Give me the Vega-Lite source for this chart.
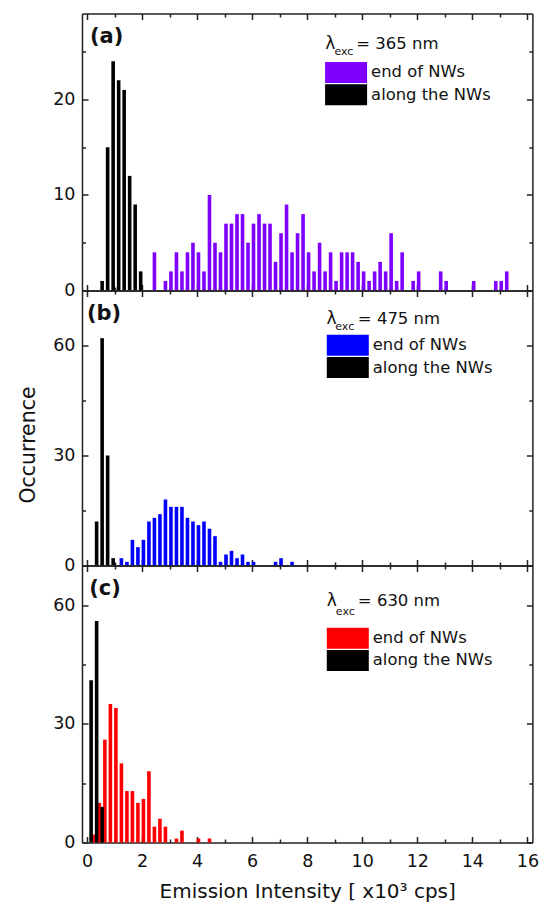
{
  "$schema": "https://vega.github.io/schema/vega-lite/v6.json",
  "padding": {"left": 18, "top": 12.5, "right": 10, "bottom": 2},
  "spacing": 0,
  "bounds": "flush",
  "background": "white",
  "config": {
    "font": "DejaVu Sans",
    "view": {"stroke": null},
    "axis": {
      "grid": false,
      "domainColor": "#222",
      "domainWidth": 1.5,
      "tickColor": "#222",
      "tickWidth": 1.5,
      "labelFont": "DejaVu Sans",
      "labelFontSize": 17.5,
      "labelColor": "#111",
      "labelOverlap": false,
      "labelFlush": false,
      "titleFont": "DejaVu Sans",
      "titleFontWeight": "normal",
      "titleColor": "#111",
      "zindex": 1
    },
    "legend": {
      "orient": "none",
      "title": null,
      "symbolType": "M-2,-1H2V1H-2Z",
      "symbolSize": 441,
      "symbolStrokeWidth": 0,
      "symbolOpacity": 1,
      "labelFont": "DejaVu Sans",
      "labelFontSize": 16.4,
      "labelColor": "#111",
      "labelOffset": 14.5,
      "labelLimit": 300,
      "rowPadding": 1.3,
      "padding": 0
    }
  },
  "resolve": {"scale": {"color": "independent"}, "legend": {"color": "independent"}},
  "datasets": {
    "a": [
      {"intensity": 2.45, "count": 4, "series": "end of NWs"},
      {"intensity": 2.85, "count": 1, "series": "end of NWs"},
      {"intensity": 3.05, "count": 2, "series": "end of NWs"},
      {"intensity": 3.25, "count": 4, "series": "end of NWs"},
      {"intensity": 3.45, "count": 2, "series": "end of NWs"},
      {"intensity": 3.65, "count": 4, "series": "end of NWs"},
      {"intensity": 3.85, "count": 5, "series": "end of NWs"},
      {"intensity": 4.05, "count": 4, "series": "end of NWs"},
      {"intensity": 4.25, "count": 2, "series": "end of NWs"},
      {"intensity": 4.45, "count": 10, "series": "end of NWs"},
      {"intensity": 4.65, "count": 5, "series": "end of NWs"},
      {"intensity": 4.85, "count": 4, "series": "end of NWs"},
      {"intensity": 5.05, "count": 7, "series": "end of NWs"},
      {"intensity": 5.25, "count": 7, "series": "end of NWs"},
      {"intensity": 5.45, "count": 8, "series": "end of NWs"},
      {"intensity": 5.65, "count": 8, "series": "end of NWs"},
      {"intensity": 5.85, "count": 5, "series": "end of NWs"},
      {"intensity": 6.05, "count": 7, "series": "end of NWs"},
      {"intensity": 6.25, "count": 8, "series": "end of NWs"},
      {"intensity": 6.45, "count": 7, "series": "end of NWs"},
      {"intensity": 6.65, "count": 7, "series": "end of NWs"},
      {"intensity": 6.85, "count": 3, "series": "end of NWs"},
      {"intensity": 7.05, "count": 6, "series": "end of NWs"},
      {"intensity": 7.25, "count": 9, "series": "end of NWs"},
      {"intensity": 7.45, "count": 4, "series": "end of NWs"},
      {"intensity": 7.65, "count": 6, "series": "end of NWs"},
      {"intensity": 7.85, "count": 8, "series": "end of NWs"},
      {"intensity": 8.05, "count": 4, "series": "end of NWs"},
      {"intensity": 8.25, "count": 2, "series": "end of NWs"},
      {"intensity": 8.45, "count": 5, "series": "end of NWs"},
      {"intensity": 8.65, "count": 2, "series": "end of NWs"},
      {"intensity": 8.85, "count": 4, "series": "end of NWs"},
      {"intensity": 9.05, "count": 1, "series": "end of NWs"},
      {"intensity": 9.25, "count": 4, "series": "end of NWs"},
      {"intensity": 9.45, "count": 4, "series": "end of NWs"},
      {"intensity": 9.65, "count": 4, "series": "end of NWs"},
      {"intensity": 9.85, "count": 3, "series": "end of NWs"},
      {"intensity": 10.05, "count": 2, "series": "end of NWs"},
      {"intensity": 10.25, "count": 1, "series": "end of NWs"},
      {"intensity": 10.45, "count": 2, "series": "end of NWs"},
      {"intensity": 10.65, "count": 3, "series": "end of NWs"},
      {"intensity": 10.85, "count": 2, "series": "end of NWs"},
      {"intensity": 11.05, "count": 6, "series": "end of NWs"},
      {"intensity": 11.25, "count": 1, "series": "end of NWs"},
      {"intensity": 11.45, "count": 4, "series": "end of NWs"},
      {"intensity": 11.85, "count": 1, "series": "end of NWs"},
      {"intensity": 12.05, "count": 2, "series": "end of NWs"},
      {"intensity": 12.85, "count": 2, "series": "end of NWs"},
      {"intensity": 13.05, "count": 1, "series": "end of NWs"},
      {"intensity": 14.05, "count": 1, "series": "end of NWs"},
      {"intensity": 14.85, "count": 1, "series": "end of NWs"},
      {"intensity": 15.05, "count": 1, "series": "end of NWs"},
      {"intensity": 15.25, "count": 2, "series": "end of NWs"},
      {"intensity": 0.55, "count": 1, "series": "along the NWs"},
      {"intensity": 0.75, "count": 15, "series": "along the NWs"},
      {"intensity": 0.95, "count": 24, "series": "along the NWs"},
      {"intensity": 1.15, "count": 22, "series": "along the NWs"},
      {"intensity": 1.35, "count": 21, "series": "along the NWs"},
      {"intensity": 1.55, "count": 12, "series": "along the NWs"},
      {"intensity": 1.75, "count": 9, "series": "along the NWs"},
      {"intensity": 1.95, "count": 2, "series": "along the NWs"}
    ],
    "b": [
      {"intensity": 1.25, "count": 2, "series": "end of NWs"},
      {"intensity": 1.45, "count": 1, "series": "end of NWs"},
      {"intensity": 1.65, "count": 7, "series": "end of NWs"},
      {"intensity": 1.85, "count": 5, "series": "end of NWs"},
      {"intensity": 2.05, "count": 7, "series": "end of NWs"},
      {"intensity": 2.25, "count": 12, "series": "end of NWs"},
      {"intensity": 2.45, "count": 13, "series": "end of NWs"},
      {"intensity": 2.65, "count": 14, "series": "end of NWs"},
      {"intensity": 2.85, "count": 18, "series": "end of NWs"},
      {"intensity": 3.05, "count": 16, "series": "end of NWs"},
      {"intensity": 3.25, "count": 16, "series": "end of NWs"},
      {"intensity": 3.45, "count": 16, "series": "end of NWs"},
      {"intensity": 3.65, "count": 13, "series": "end of NWs"},
      {"intensity": 3.85, "count": 12, "series": "end of NWs"},
      {"intensity": 4.05, "count": 11, "series": "end of NWs"},
      {"intensity": 4.25, "count": 12, "series": "end of NWs"},
      {"intensity": 4.45, "count": 10, "series": "end of NWs"},
      {"intensity": 4.65, "count": 8, "series": "end of NWs"},
      {"intensity": 4.85, "count": 1, "series": "end of NWs"},
      {"intensity": 5.05, "count": 3, "series": "end of NWs"},
      {"intensity": 5.25, "count": 4, "series": "end of NWs"},
      {"intensity": 5.45, "count": 2, "series": "end of NWs"},
      {"intensity": 5.65, "count": 3, "series": "end of NWs"},
      {"intensity": 5.85, "count": 1, "series": "end of NWs"},
      {"intensity": 6.05, "count": 1, "series": "end of NWs"},
      {"intensity": 6.85, "count": 1, "series": "end of NWs"},
      {"intensity": 7.05, "count": 2, "series": "end of NWs"},
      {"intensity": 7.45, "count": 1, "series": "end of NWs"},
      {"intensity": 0.35, "count": 12, "series": "along the NWs"},
      {"intensity": 0.55, "count": 62, "series": "along the NWs"},
      {"intensity": 0.75, "count": 30, "series": "along the NWs"},
      {"intensity": 0.95, "count": 2, "series": "along the NWs"}
    ],
    "c": [
      {"intensity": 0.25, "count": 2, "series": "end of NWs"},
      {"intensity": 0.45, "count": 10, "series": "end of NWs"},
      {"intensity": 0.65, "count": 26, "series": "end of NWs"},
      {"intensity": 0.85, "count": 35, "series": "end of NWs"},
      {"intensity": 1.05, "count": 34, "series": "end of NWs"},
      {"intensity": 1.25, "count": 20, "series": "end of NWs"},
      {"intensity": 1.45, "count": 13, "series": "end of NWs"},
      {"intensity": 1.65, "count": 13, "series": "end of NWs"},
      {"intensity": 1.85, "count": 10, "series": "end of NWs"},
      {"intensity": 2.05, "count": 11, "series": "end of NWs"},
      {"intensity": 2.25, "count": 18, "series": "end of NWs"},
      {"intensity": 2.45, "count": 4, "series": "end of NWs"},
      {"intensity": 2.65, "count": 6, "series": "end of NWs"},
      {"intensity": 2.85, "count": 4, "series": "end of NWs"},
      {"intensity": 3.25, "count": 1, "series": "end of NWs"},
      {"intensity": 3.45, "count": 3, "series": "end of NWs"},
      {"intensity": 4.05, "count": 1, "series": "end of NWs"},
      {"intensity": 4.45, "count": 1, "series": "end of NWs"},
      {"intensity": 0.15, "count": 41, "series": "along the NWs"},
      {"intensity": 0.35, "count": 56, "series": "along the NWs"},
      {"intensity": 0.55, "count": 9, "series": "along the NWs"}
    ]
  },
  "vconcat": [
    {
      "width": 450.4,
      "height": 277,
      "resolve": {"axis": {"x": "independent", "y": "independent"}},
      "layer": [
        {
          "data": {"name": "a"},
          "mark": {"type": "bar", "size": 3.6, "orient": "vertical"},
          "encoding": {
            "x": {"field": "intensity", "type": "quantitative", "scale": {"domain": [0, 16], "nice": false, "zero": false},
              "axis": {"orient": "bottom", "values": [0,1,2,3,4,5,6,7,8,9,10,11,12,13,14,15,16], "labels": false, "title": null,
                "tickSize": {"condition": {"test": "datum.value % 2 === 0", "value": -6}, "value": -3.5}}},
            "y": {"field": "count", "type": "quantitative", "stack": null, "scale": {"domain": [0, 29], "nice": false},
              "axis": {"orient": "left", "values": [0,5,10,15,20,25], "labelExpr": "datum.value % 10 === 0 ? datum.label : ''", "labelPadding": 13, "title": null,
                "tickSize": {"condition": {"test": "datum.value % 10 === 0", "value": -6}, "value": -3.5}}},
            "color": {"field": "series", "type": "nominal", "scale": {"domain": ["end of NWs", "along the NWs"], "range": ["#8000ff", "#000000"]},
              "legend": {"legendX": 253.6, "legendY": 48.4}}
          }
        },
        {
          "data": {"values": [{}]},
          "mark": {"type": "text", "text": "(a)", "fontWeight": "bold", "fontSize": 21, "align": "left", "baseline": "middle", "color": "#111"},
          "encoding": {
            "x": {"datum": 0.11, "type": "quantitative",
              "axis": {"orient": "top", "values": [0,1,2,3,4,5,6,7,8,9,10,11,12,13,14,15,16], "labels": false, "title": null,
                "tickSize": {"condition": {"test": "datum.value % 2 === 0", "value": -6}, "value": -3.5}}},
            "y": {"datum": 26.55, "type": "quantitative",
              "axis": {"orient": "right", "values": [0,5,10,15,20,25], "labels": false, "title": null,
                "tickSize": {"condition": {"test": "datum.value % 10 === 0", "value": -6}, "value": -3.5}}}
          }
        },
        {
          "data": {"values": [{}]},
          "mark": {"type": "text", "text": "λ", "fontSize": 17, "align": "left", "baseline": "middle", "color": "#111"},
          "encoding": {"x": {"datum": 8.66, "type": "quantitative", "axis": null}, "y": {"datum": 25.79, "type": "quantitative", "axis": null}}
        },
        {
          "data": {"values": [{}]},
          "mark": {"type": "text", "text": "exc", "fontSize": 11, "align": "left", "baseline": "middle", "color": "#111"},
          "encoding": {"x": {"datum": 8.99, "type": "quantitative", "axis": null}, "y": {"datum": 24.95, "type": "quantitative", "axis": null}}
        },
        {
          "data": {"values": [{}]},
          "mark": {"type": "text", "text": "= 365 nm", "fontSize": 16.5, "align": "left", "baseline": "middle", "color": "#111"},
          "encoding": {"x": {"datum": 9.78, "type": "quantitative", "axis": null}, "y": {"datum": 25.79, "type": "quantitative", "axis": null}}
        }
      ]
    },
    {
      "width": 450.4,
      "height": 275,
      "resolve": {"axis": {"x": "independent", "y": "independent"}},
      "layer": [
        {
          "data": {"name": "b"},
          "mark": {"type": "bar", "size": 3.6, "orient": "vertical"},
          "encoding": {
            "x": {"field": "intensity", "type": "quantitative", "scale": {"domain": [0, 16], "nice": false, "zero": false},
              "axis": {"orient": "bottom", "values": [0,1,2,3,4,5,6,7,8,9,10,11,12,13,14,15,16], "labels": false, "title": null,
                "tickSize": {"condition": {"test": "datum.value % 2 === 0", "value": -6}, "value": -3.5}}},
            "y": {"field": "count", "type": "quantitative", "stack": null, "scale": {"domain": [0, 75], "nice": false},
              "axis": {"orient": "left", "values": [0,15,30,45,60], "labelExpr": "datum.value % 30 === 0 ? datum.label : ''", "labelPadding": 13,
                "title": "Occurrence", "titleFontSize": 20.5, "titlePadding": 14, "titleY": 154,
                "tickSize": {"condition": {"test": "datum.value % 30 === 0", "value": -6}, "value": -3.5}}},
            "color": {"field": "series", "type": "nominal", "scale": {"domain": ["end of NWs", "along the NWs"], "range": ["#0000ff", "#000000"]},
              "legend": {"legendX": 255.3, "legendY": 44.3}}
          }
        },
        {
          "data": {"values": [{}]},
          "mark": {"type": "text", "text": "(b)", "fontWeight": "bold", "fontSize": 21, "align": "left", "baseline": "middle", "color": "#111"},
          "encoding": {
            "x": {"datum": 0.0, "type": "quantitative",
              "axis": {"orient": "top", "values": [0,1,2,3,4,5,6,7,8,9,10,11,12,13,14,15,16], "labels": false, "title": null,
                "tickSize": {"condition": {"test": "datum.value % 2 === 0", "value": -6}, "value": -3.5}}},
            "y": {"datum": 68.5, "type": "quantitative",
              "axis": {"orient": "right", "values": [0,15,30,45,60], "labels": false, "title": null,
                "tickSize": {"condition": {"test": "datum.value % 30 === 0", "value": -6}, "value": -3.5}}}
          }
        },
        {
          "data": {"values": [{}]},
          "mark": {"type": "text", "text": "λ", "fontSize": 17, "align": "left", "baseline": "middle", "color": "#111"},
          "encoding": {"x": {"datum": 8.70, "type": "quantitative", "axis": null}, "y": {"datum": 67.3, "type": "quantitative", "axis": null}}
        },
        {
          "data": {"values": [{}]},
          "mark": {"type": "text", "text": "exc", "fontSize": 11, "align": "left", "baseline": "middle", "color": "#111"},
          "encoding": {"x": {"datum": 9.02, "type": "quantitative", "axis": null}, "y": {"datum": 65.1, "type": "quantitative", "axis": null}}
        },
        {
          "data": {"values": [{}]},
          "mark": {"type": "text", "text": "= 475 nm", "fontSize": 16.5, "align": "left", "baseline": "middle", "color": "#111"},
          "encoding": {"x": {"datum": 9.84, "type": "quantitative", "axis": null}, "y": {"datum": 67.3, "type": "quantitative", "axis": null}}
        }
      ]
    },
    {
      "width": 450.4,
      "height": 277,
      "resolve": {"axis": {"x": "independent", "y": "independent"}},
      "layer": [
        {
          "data": {"name": "c"},
          "mark": {"type": "bar", "size": 3.6, "orient": "vertical"},
          "encoding": {
            "x": {"field": "intensity", "type": "quantitative", "scale": {"domain": [0, 16], "nice": false, "zero": false},
              "axis": {"orient": "bottom", "values": [0,1,2,3,4,5,6,7,8,9,10,11,12,13,14,15,16], "labelExpr": "datum.value % 2 === 0 ? datum.label : ''", "labelPadding": 15.6,
                "title": "Emission Intensity [ x10³ cps]", "titleFontSize": 20, "titlePadding": 9,
                "tickSize": {"condition": {"test": "datum.value % 2 === 0", "value": -6}, "value": -3.5}}},
            "y": {"field": "count", "type": "quantitative", "stack": null, "scale": {"domain": [0, 70], "nice": false},
              "axis": {"orient": "left", "values": [0,15,30,45,60], "labelExpr": "datum.value % 30 === 0 ? datum.label : ''", "labelPadding": 13, "title": null,
                "tickSize": {"condition": {"test": "datum.value % 30 === 0", "value": -6}, "value": -3.5}}},
            "color": {"field": "series", "type": "nominal", "scale": {"domain": ["end of NWs", "along the NWs"], "range": ["#ff0000", "#000000"]},
              "legend": {"legendX": 255.3, "legendY": 62.2}}
          }
        },
        {
          "data": {"values": [{}]},
          "mark": {"type": "text", "text": "(c)", "fontWeight": "bold", "fontSize": 21, "align": "left", "baseline": "middle", "color": "#111"},
          "encoding": {
            "x": {"datum": 0.08, "type": "quantitative",
              "axis": {"orient": "top", "values": [0,1,2,3,4,5,6,7,8,9,10,11,12,13,14,15,16], "labels": false, "title": null,
                "tickSize": {"condition": {"test": "datum.value % 2 === 0", "value": -6}, "value": -3.5}}},
            "y": {"datum": 64.1, "type": "quantitative",
              "axis": {"orient": "right", "values": [0,15,30,45,60], "labels": false, "title": null,
                "tickSize": {"condition": {"test": "datum.value % 30 === 0", "value": -6}, "value": -3.5}}}
          }
        },
        {
          "data": {"values": [{}]},
          "mark": {"type": "text", "text": "λ", "fontSize": 17, "align": "left", "baseline": "middle", "color": "#111"},
          "encoding": {"x": {"datum": 8.71, "type": "quantitative", "axis": null}, "y": {"datum": 60.98, "type": "quantitative", "axis": null}}
        },
        {
          "data": {"values": [{}]},
          "mark": {"type": "text", "text": "exc", "fontSize": 11, "align": "left", "baseline": "middle", "color": "#111"},
          "encoding": {"x": {"datum": 9.04, "type": "quantitative", "axis": null}, "y": {"datum": 58.2, "type": "quantitative", "axis": null}}
        },
        {
          "data": {"values": [{}]},
          "mark": {"type": "text", "text": "= 630 nm", "fontSize": 16.5, "align": "left", "baseline": "middle", "color": "#111"},
          "encoding": {"x": {"datum": 9.84, "type": "quantitative", "axis": null}, "y": {"datum": 60.98, "type": "quantitative", "axis": null}}
        }
      ]
    }
  ]
}
